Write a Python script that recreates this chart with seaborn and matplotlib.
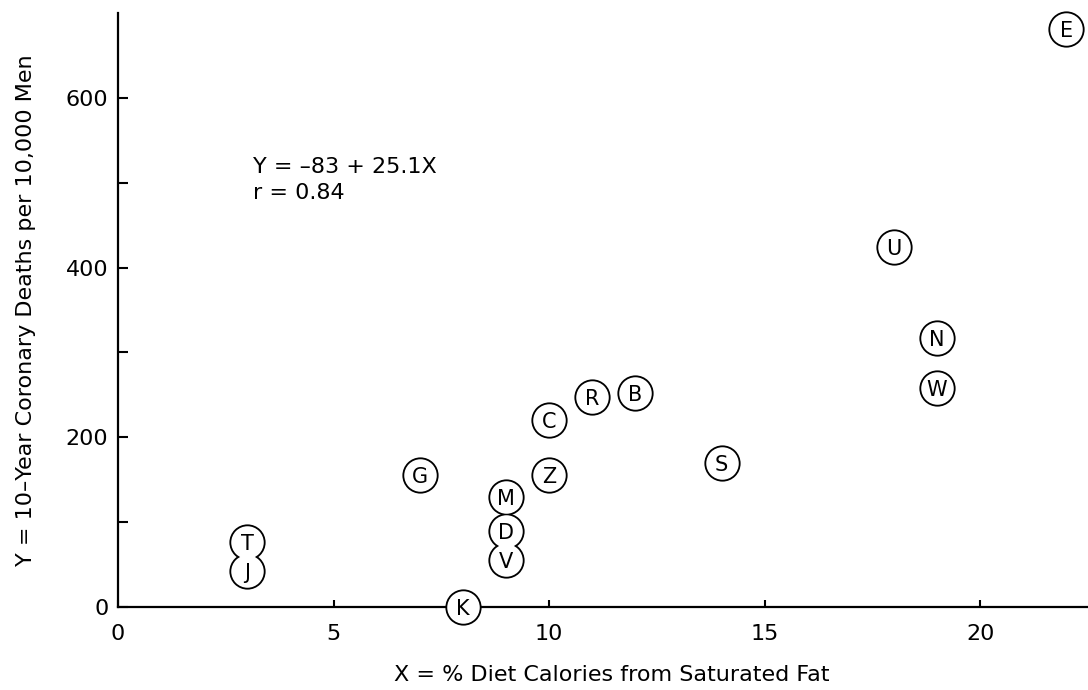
import matplotlib
matplotlib.use("Agg")
import matplotlib.pyplot as plt
import seaborn as sns
import pandas as pd

# Country codes with saturated-fat share and coronary deaths
codes = ["E", "U", "N", "W", "S", "B", "R", "C", "Z", "G", "M", "D", "V", "T", "J", "K"]
sat_fat_pct = [22, 18, 19, 19, 14, 12, 11, 10, 10, 7, 9, 9, 9, 3, 3, 8]
deaths_per_10k = [681, 424, 317, 258, 170, 252, 248, 220, 155, 155, 130, 89, 55, 76, 42, 0]

x_ticks = [0, 5, 10, 15, 20]
y_major_ticks = [0, 200, 400, 600]
y_minor_ticks = [100, 300, 500]

df = pd.DataFrame({"code": codes, "x": sat_fat_pct, "y": deaths_per_10k})

sns.set_theme(style="ticks")
plt.rcParams["font.family"] = ["DejaVu Sans"]
plt.rcParams["text.color"] = "black"
plt.rcParams["axes.labelcolor"] = "black"

fig = plt.figure(figsize=(10.88, 6.9), dpi=100)
ax = fig.add_axes([0.1085, 0.1203, 0.8915, 0.861])

# Outline layer, then white fill layer so touching circles merge their outlines
sns.scatterplot(data=df, x="x", y="y", ax=ax, s=680, color="black",
                linewidth=0, marker="o", clip_on=False, zorder=3, legend=False)
sns.scatterplot(data=df, x="x", y="y", ax=ax, s=548, color="white",
                linewidth=0, marker="o", clip_on=False, zorder=4, legend=False)

for _, row in df.iterrows():
    ax.text(row["x"], row["y"], row["code"], ha="center", va="center_baseline",
            fontsize=15, color="black", zorder=5, clip_on=False)

ax.set_xlim(0, 22.5)
ax.set_ylim(0, 700)
ax.set_xticks(x_ticks)
ax.set_yticks(y_major_ticks)
ax.set_yticks(y_minor_ticks, minor=True)

sns.despine(ax=ax)
for side in ("left", "bottom"):
    ax.spines[side].set_linewidth(1.6)
    ax.spines[side].set_color("black")

ax.tick_params(axis="both", which="both", direction="in", width=1.5,
               colors="black", labelcolor="black", labelsize=16)
ax.tick_params(axis="y", which="both", length=7.5, pad=7)
ax.tick_params(axis="x", which="major", length=5, pad=12)

ax.set_xlabel("X = % Diet Calories from Saturated Fat", fontsize=16, color="black")
ax.set_ylabel("Y = 10\u2013Year Coronary Deaths per 10,000 Men", fontsize=16, color="black")
ax.xaxis.set_label_coords(0.509, -0.097)
ax.yaxis.set_label_coords(-0.085, 0.5)

ax.text(3.13, 518, "Y = \u201383 + 25.1X", fontsize=16, ha="left", va="center", color="black")
ax.text(3.13, 488, "r = 0.84", fontsize=16, ha="left", va="center", color="black")

fig.savefig("out.png", dpi=100)
